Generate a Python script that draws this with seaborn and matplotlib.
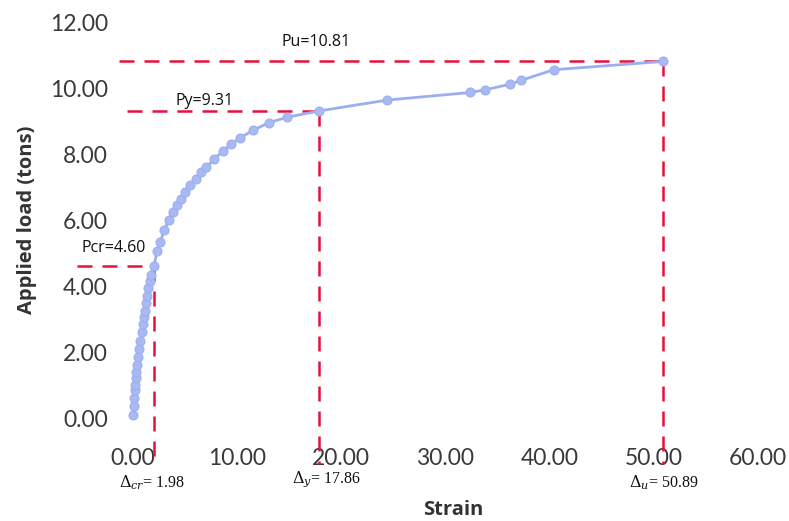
import matplotlib
matplotlib.use("Agg")
import matplotlib.pyplot as plt
import seaborn as sns
import pandas as pd

# Load-strain readings
strain = [0.0, 0.05, 0.1, 0.15, 0.2, 0.25, 0.3, 0.4, 0.5, 0.6, 0.7, 0.8, 0.9,
          1.0, 1.1, 1.2, 1.3, 1.45, 1.6, 1.75, 1.98, 2.3, 2.6, 3.0, 3.4, 3.8,
          4.2, 4.6, 5.0, 5.5, 6.0, 6.5, 7.0, 7.8, 8.6, 9.4, 10.3, 11.5, 13.0,
          14.8, 17.86, 24.4, 32.4, 33.8, 36.2, 37.3, 40.4, 50.89]
load = [0.1, 0.35, 0.6, 0.85, 1.0, 1.2, 1.4, 1.6, 1.85, 2.1, 2.35, 2.6, 2.85,
        3.05, 3.25, 3.5, 3.7, 3.95, 4.15, 4.35, 4.60, 5.05, 5.35, 5.7, 6.0,
        6.25, 6.45, 6.65, 6.85, 7.05, 7.25, 7.45, 7.6, 7.85, 8.1, 8.3, 8.5,
        8.72, 8.95, 9.12, 9.31, 9.64, 9.87, 9.95, 10.12, 10.24, 10.56, 10.81]

# Key points: cracking, yield, ultimate
key_names = ["cr", "y", "u"]
key_strain = [1.98, 17.86, 50.89]
key_load = [4.60, 9.31, 10.81]
load_labels = ["Pcr=4.60", "Py=9.31", "Pu=10.81"]
strain_labels = [r"$\Delta_{cr}$= 1.98", r"$\Delta_{y}$= 17.86", r"$\Delta_{u}$= 50.89"]

x_ticks = [0, 10, 20, 30, 40, 50, 60]
y_ticks = [0, 2, 4, 6, 8, 10, 12]

df = pd.DataFrame({"Strain": strain, "Load": load})

sns.set_style("white")
plt.rcParams["font.family"] = ["Open Sans", "DejaVu Sans"]
plt.rcParams["mathtext.fontset"] = "dejavuserif"

fig = plt.figure(figsize=(7.89, 5.21), dpi=100)
ax = fig.add_axes([0.149, 0.166, 0.851, 0.823])

sns.lineplot(data=df, x="Strain", y="Load", ax=ax, color="#9aaef0",
             linewidth=2.0, marker="o", markersize=6.5,
             markerfacecolor="#a9baf2", markeredgecolor="#9aaef0",
             estimator=None, sort=False)

red = "#e8103a"
dash = dict(color=red, linewidth=1.8, dashes=(6, 4), clip_on=False, zorder=1)
h_start = [-5.4, -0.6, -1.4]
for xs, ys, x0 in zip(key_strain, key_load, h_start):
    ax.plot([x0, xs], [ys, ys], **dash)
    ax.plot([xs, xs], [ys, -1.4], **dash)

# annotation texts
lab_font = dict(fontsize=11.5, color="#111111", ha="center", va="center")
ax.text(-1.9, 5.15, load_labels[0], **lab_font)
ax.text(6.9, 9.6, load_labels[1], **lab_font)
ax.text(17.6, 11.4, load_labels[2], **lab_font)

d_font = dict(fontsize=11.5, color="#111111", ha="center", va="center",
              family=["Liberation Serif", "DejaVu Serif"])
ax.text(1.8, -1.95, strain_labels[0], **d_font)
ax.text(18.6, -1.85, strain_labels[1], **d_font)
ax.text(51.0, -1.95, strain_labels[2], **d_font)

ax.set_xlim(-1.5, 63)
ax.set_ylim(-0.5, 12.5)
ax.set_xticks(x_ticks)
ax.set_yticks(y_ticks)
ax.set_xticklabels([f"{v:.2f}" for v in x_ticks])
ax.set_yticklabels([f"{v:.2f}" for v in y_ticks])
for lbl in ax.get_xticklabels() + ax.get_yticklabels():
    lbl.set_fontfamily(["Lato", "DejaVu Sans"])
    lbl.set_fontweight("normal")
    lbl.set_fontsize(16.5)
    lbl.set_color("#3a3a3a")
ax.tick_params(axis="x", pad=10, length=0)
ax.tick_params(axis="y", pad=7, length=0)

ax.set_xlabel("Strain", fontsize=14.5, fontweight="bold", color="#333333", labelpad=22)
ax.set_ylabel("Applied load (tons)", fontsize=14.5, fontweight="bold", color="#333333", labelpad=9)

for s in ax.spines.values():
    s.set_visible(False)

fig.savefig("out.png", dpi=100)
